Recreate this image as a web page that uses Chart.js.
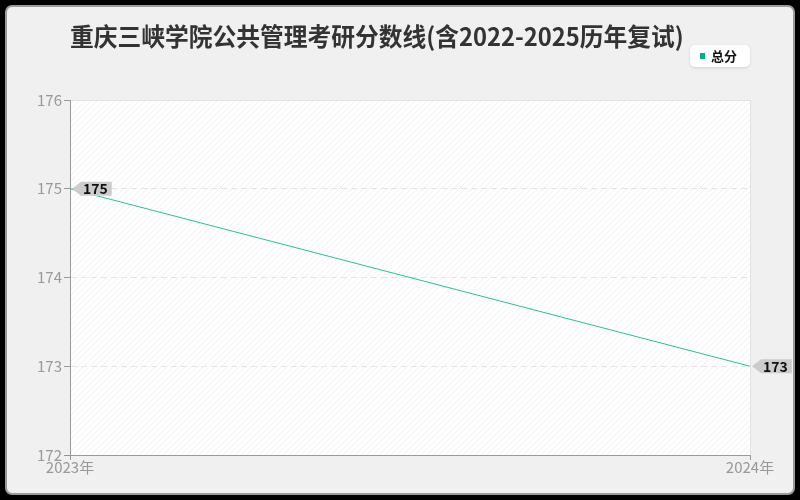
<!DOCTYPE html>
<html>
<head>
<meta charset="utf-8">
<script src="https://cdn.jsdelivr.net/npm/chart.js@4"></script>
<style>
  html, body { margin: 0; padding: 0; background: #000; }
  #wrap { position: relative; width: 800px; height: 500px; }
  #panel { position: absolute; left: 5px; top: 5px; width: 786px; height: 486px;
           background: #f0f0f0; border: 2px solid #9a9a9a; border-radius: 7px; }
  #c { position: absolute; left: 0; top: 0; }
</style>
</head>
<body>
<div id="wrap">
  <div id="panel"></div>
  <canvas id="c" width="800" height="500"></canvas>
</div>
<script>
const titleText = '重庆三峡学院公共管理考研分数线(含2022-2025历年复试)';
const years = ['2023年', '2024年'];
const scores = [175, 173];
const seriesName = '总分';
const yTicks = [172, 173, 174, 175, 176];

const lineColor = '#2dbf8e';
const FONT = '"Noto Sans CJK SC", "Noto Sans", sans-serif';

function hatchPattern(ctx) {
    const p = document.createElement('canvas');
    p.width = 6; p.height = 6;
    const g = p.getContext('2d');
    g.fillStyle = '#ffffff';
    g.fillRect(0, 0, 6, 6);
    g.strokeStyle = '#f1f1f1';
    g.lineWidth = 1;
    g.beginPath();
    g.moveTo(0, 6); g.lineTo(6, 0);
    g.moveTo(-3, 3); g.lineTo(3, -3);
    g.moveTo(3, 9); g.lineTo(9, 3);
    g.stroke();
    return ctx.createPattern(p, 'repeat');
}

// plot background, title, legend box, value callouts
const decor = {
    id: 'decor',
    beforeDraw(chart) {
        const ctx = chart.ctx;
        const a = chart.chartArea;
        ctx.save();
        ctx.fillStyle = hatchPattern(ctx);
        ctx.fillRect(a.left, a.top, a.right - a.left, a.bottom - a.top);
        ctx.strokeStyle = '#e2e2e2';
        ctx.lineWidth = 1;
        ctx.strokeRect(a.left + 0.5, a.top + 0.5, a.right - a.left, a.bottom - a.top);

        // title (slightly condensed)
        ctx.save();
        ctx.translate(70, 36);
        ctx.scale(0.95, 1);
        ctx.fillStyle = '#333';
        ctx.font = 'bold 25px ' + FONT;
        ctx.textAlign = 'left';
        ctx.textBaseline = 'middle';
        ctx.fillText(titleText, 0, 0);
        ctx.restore();

        // legend
        ctx.shadowColor = 'rgba(0,0,0,0.12)';
        ctx.shadowBlur = 3;
        ctx.shadowOffsetY = 1;
        ctx.fillStyle = '#fff';
        ctx.beginPath();
        ctx.roundRect(690, 45, 60, 22, 5);
        ctx.fill();
        ctx.shadowColor = 'transparent';
        ctx.fillStyle = '#00b386';
        ctx.fillRect(700, 53, 5, 6);
        ctx.fillStyle = '#111';
        ctx.font = 'bold 13px ' + FONT;
        ctx.textBaseline = 'middle';
        ctx.fillText(seriesName, 711, 56);
        ctx.restore();
    },
    afterDatasetsDraw(chart) {
        const ctx = chart.ctx;
        const meta = chart.getDatasetMeta(0);
        ctx.save();
        ctx.font = 'bold 14px ' + FONT;
        ctx.textBaseline = 'middle';
        ctx.textAlign = 'left';
        meta.data.forEach((pt, i) => {
            const label = String(scores[i]);
            const x = pt.x + 2, y = pt.y;
            const w = ctx.measureText(label).width + 6;
            ctx.fillStyle = '#cccccc';
            ctx.beginPath();
            ctx.moveTo(x, y);
            ctx.lineTo(x + 9, y - 7);
            ctx.lineTo(x + 9 + w, y - 7);
            ctx.lineTo(x + 9 + w, y + 7);
            ctx.lineTo(x + 9, y + 7);
            ctx.closePath();
            ctx.fill();
            ctx.fillStyle = '#111';
            ctx.fillText(label, x + 11, y);
        });
        ctx.restore();
    }
};

new Chart(document.getElementById('c'), {
    type: 'line',
    data: {
        labels: years,
        datasets: [{
            label: seriesName,
            data: scores,
            borderColor: lineColor,
            backgroundColor: lineColor,
            borderWidth: 1,
            pointRadius: 0,
            tension: 0
        }]
    },
    options: {
        responsive: false,
        animation: false,
        layout: { padding: { top: 100, right: 50, bottom: 0, left: 0 } },
        plugins: {
            legend: { display: false },
            title: { display: false },
            tooltip: { enabled: false }
        },
        scales: {
            x: {
                offset: false,
                grid: { color: 'rgba(0,0,0,0)', tickColor: '#999', tickLength: 5 },
                border: { color: '#999' },
                ticks: { color: '#999', font: { family: FONT, size: 15 }, padding: -2, maxRotation: 0 },
                afterFit(scale) { scale.height = 45; }
            },
            y: {
                min: yTicks[0],
                max: yTicks[yTicks.length - 1],
                afterBuildTicks(scale) { scale.ticks = yTicks.map(v => ({ value: v })); },
                grid: {
                    color: (c) => (c.tick && (c.tick.value === yTicks[0] || c.tick.value === yTicks[yTicks.length - 1])) ? 'rgba(0,0,0,0)' : '#e4e4e4',
                    tickColor: '#999',
                    tickLength: 6
                },
                border: { color: '#999', dash: [6, 4] },
                ticks: { color: '#999', font: { family: FONT, size: 15 }, padding: 2 },
                afterFit(scale) { scale.width = 70; }
            }
        }
    },
    plugins: [decor]
});
</script>
</body>
</html>
